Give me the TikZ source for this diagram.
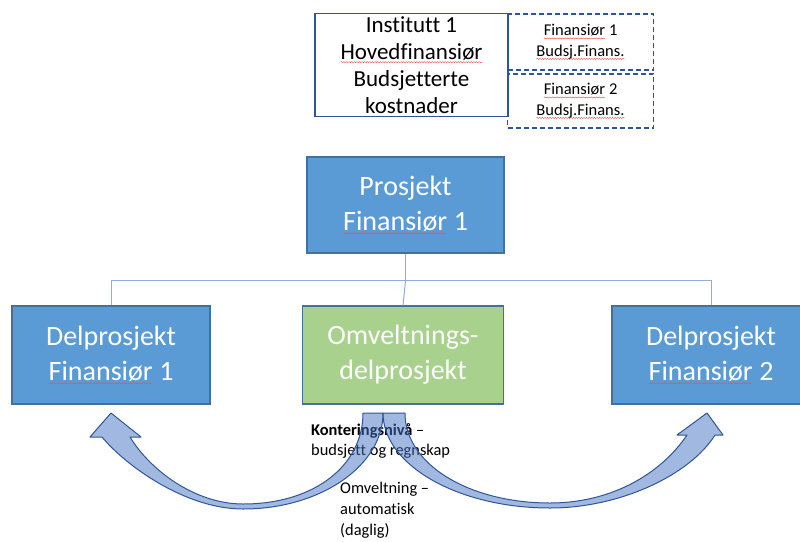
\documentclass[tikz,border=0pt]{standalone}
\usepackage{fontspec}
\setmainfont[Ligatures=CommonOff]{Carlito}
\usetikzlibrary{decorations.pathmorphing}

\definecolor{boxblue}{HTML}{5B9BD5}
\definecolor{boxedge}{HTML}{41719C}
\definecolor{boxgreen}{HTML}{A9D18E}
\definecolor{navy}{HTML}{2F5597}
\definecolor{linkblue}{HTML}{8FAADC}
\definecolor{arrowfill}{HTML}{4472C4}
\definecolor{spellred}{HTML}{E8534F}

% plain settings for the small picture inside a word
\tikzset{plainword/.style={inner sep=0pt,outer sep=0pt,minimum width=0pt,minimum height=0pt,
  draw=none,fill=none,solid,fill opacity=1,x=1pt,y=1pt}}

% word with a wavy red underline
\newcommand\spellmark[1]{\tikz[baseline=(sw.base),x=1pt,y=1pt]{\node[plainword,anchor=base](sw){#1};\draw[spellred,solid,line width=0.45pt,decorate,decoration={snake,amplitude=0.55pt,segment length=2.6pt}]([yshift=-2.8pt]sw.base west)--([yshift=-2.8pt]sw.base east);}}

\begin{document}
\begin{tikzpicture}[x=1pt,y=-1pt,
  hostbox/.style={draw=navy,line width=1.8pt,minimum width=193pt,minimum height=103pt,
    align=center,inner sep=0pt,font=\fontsize{23}{27}\selectfont},
  fundbox/.style={draw=navy,line width=1.6pt,dash pattern=on 5pt off 3pt,minimum width=146pt,
    align=center,inner sep=0pt,font=\fontsize{16.5}{20.5}\selectfont},
  bluebox/.style={draw=boxedge,line width=1.4pt,fill=boxblue,text=white,minimum width=198pt,
    minimum height=98pt,align=center,inner sep=0pt,font=\fontsize{28}{35}\selectfont},
  greenbox/.style={bluebox,fill=boxgreen},
  link/.style={draw=linkblue,line width=1pt},
  note/.style={align=left,inner sep=0pt,font=\fontsize{16.4}{20}\selectfont},
  bigarrow/.style={fill=arrowfill,fill opacity=0.5,draw=navy,line width=1pt,line join=round}]
\useasboundingbox (0,0) rectangle (800,541);
\clip (0,0) rectangle (800,541);

% budget boxes
\node[hostbox] (inst) at (411.5,65) {Institutt 1\\\spellmark{Hovedfinansiør}\\Budsjetterte\\kostnader};
\node[fundbox,minimum height=56pt] (f1) at (580.5,42) {\spellmark{Finansiør} 1\\\spellmark{Budsj.Finans.}};
\node[fundbox,minimum height=54pt] (f2) at (580.5,101) {\spellmark{Finansiør} 2\\\spellmark{Budsj.Finans.}};

% project hierarchy
\node[bluebox,minimum width=197pt,minimum height=96pt] (proj) at (405.5,205) {Prosjekt\\\spellmark{Finansiør} 1};
\node[bluebox] (d1) at (111,355) {Delprosjekt\\\spellmark{Finansiør} 1};
\node[greenbox,minimum width=201pt] (om) at (403,355) {Omveltnings-\\delprosjekt};
\node[bluebox] (d2) at (711,355) {Delprosjekt\\\spellmark{Finansiør} 2};

\path (proj.south) ++(0,27) coordinate (bus);
\draw[link] (proj.south) -- (bus);
\draw[link] (bus) -| (d1.north);
\draw[link] (bus) -| (d2.north);
\draw[link] (bus) -- (om.north);

% notes
\node[note,anchor=north west] (kont) at (311,423) {\textbf{Konteringsnivå} –\\budsjett og regnskap};
\node[note,anchor=north west,font=\fontsize{16.4}{21}\selectfont] (omv) at (340,482) {Omveltning –\\automatisk\\(daglig)};

% curved block arrows
\draw[bigarrow] (383,413) .. controls (383,466) and (320,509) .. (243,509)
  .. controls (185,509) and (125,465) .. (102,437) -- (90,437) -- (111,413) -- (141,437) -- (130,437)
  .. controls (150,470) and (195,504) .. (243,504)
  .. controls (315,504) and (363,465) .. (363,413) -- cycle;
\draw[bigarrow] (383,413) .. controls (383,465) and (458,508) .. (550,508)
  .. controls (620,508) and (690,475) .. (715,435) -- (723,435) -- (707,413) -- (677,435) -- (687,435)
  .. controls (660,475) and (610,503) .. (550,503)
  .. controls (470,503) and (405,465) .. (405,413) -- cycle;
\end{tikzpicture}
\end{document}
